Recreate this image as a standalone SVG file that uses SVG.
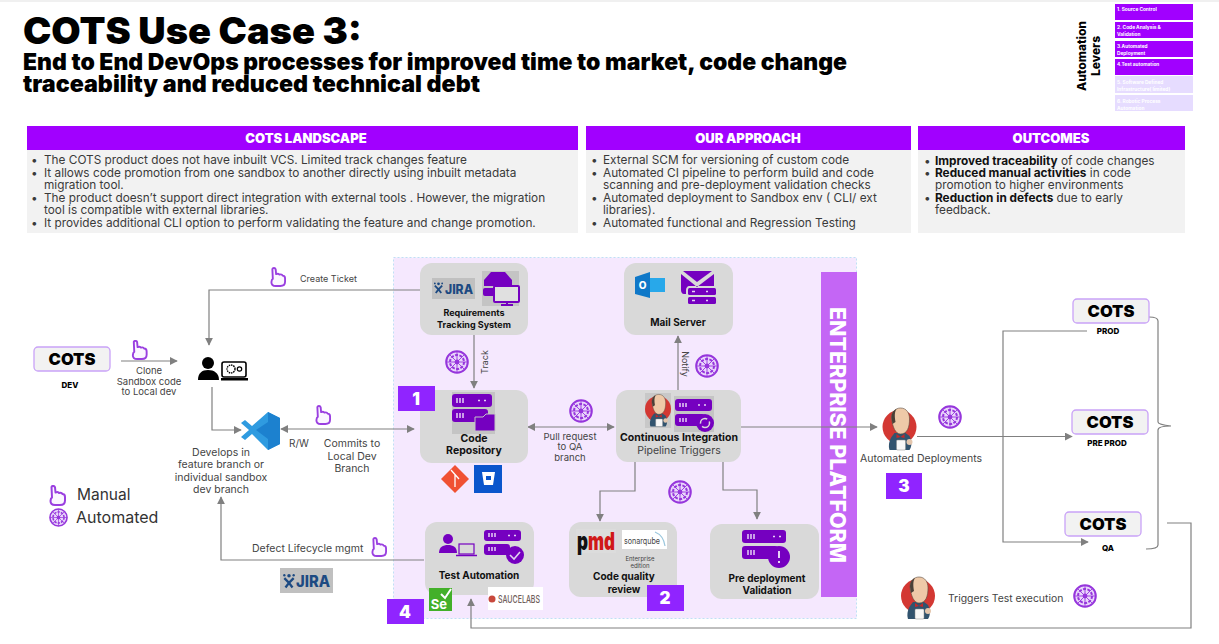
<svg xmlns="http://www.w3.org/2000/svg" width="1219" height="644" viewBox="0 0 1219 644" font-family="Inter, 'Liberation Sans', sans-serif">
<style>
text{font-family:Inter,'Liberation Sans',sans-serif;fill:#333}
.t1{font-size:37px;font-weight:900;fill:#000}
.t2{font-size:23px;font-weight:900;fill:#000}
.hd{font-size:13px;font-weight:900;fill:#fff;text-anchor:middle}
.bd{font-size:11.800px;fill:#3a3a3a}
.b{font-weight:700;fill:#111}
.lv{font-size:4.800px;font-weight:700;fill:#fff}
.lab{font-size:9.500px;fill:#444;text-anchor:middle}
.lab0{font-size:9.500px;fill:#444}
.nd{font-size:10px;font-weight:700;fill:#111;text-anchor:middle}
.card{fill:#d9d9d9}
.cots{fill:#f2f2f2;stroke:#c9a2f7;stroke-width:1.300}
.ct{font-size:16.500px;font-weight:900;fill:#000;text-anchor:middle}
.env{font-size:8px;font-weight:800;fill:#000;text-anchor:middle}
.badge{fill:#9024ff}
.bt{font-size:17px;font-weight:900;fill:#fff;text-anchor:middle}
.c{fill:none;stroke:#808080;stroke-width:1.200}
.p{fill:#7500c0}
.dash{stroke:#e6d0f5;stroke-width:1.500;fill:none}
</style>
<defs>
<marker id="ah" viewBox="0 0 10 10" refX="9" refY="5" markerWidth="8" markerHeight="8" markerUnits="userSpaceOnUse" orient="auto-start-reverse"><path d="M0 0L10 5L0 10z" fill="#808080"/></marker>
<symbol id="hand" viewBox="0 0 17 21"><path d="M2.500 2C3 .5 5.500 .5 6 2.200L6.500 7.500C8 6.800 9.500 7 10 8C11.500 7.500 13 8 13.500 9C15.300 9 16 10 16 12L16 15.500C16 18.500 14 20 11 20L6 20C3 20 1.500 18.500 1.500 16L2 13.500 3 12.500z" fill="#fbf6ff" stroke="#9a3fe0" stroke-width="2" stroke-linejoin="round"/></symbol>
<symbol id="auto" viewBox="0 0 24 24"><circle cx="12" cy="12" r="10.800" fill="#e9d6fb" stroke="#9636dc" stroke-width="2"/><circle cx="12" cy="12" r="7" fill="none" stroke="#9636dc" stroke-width="2" stroke-dasharray="3 1.400"/><circle cx="12" cy="12" r="2.400" fill="#9636dc"/><path d="M12 1.500V22.500M1.500 12H22.500M4.500 4.500L19.500 19.500M19.500 4.500L4.500 19.500" stroke="#9636dc" stroke-width=".9"/></symbol>
<symbol id="jenkins" viewBox="0 0 34 44"><circle cx="17" cy="20" r="17" fill="#d33833"/><path d="M9 30C6 35 6 40 7 43L27 43C29 40 30 35 27 29L23 26 12 26z" fill="#31536e"/><path d="M9 11C9 5 13 1 18 1C24 1 27 6 27 12C27 20 25 27 18 27C13 27 10 20 9 11z" fill="#eec9a8" stroke="#5a4a3e" stroke-width=".6"/><path d="M9 11C9 6 11 3 14 2C12 5 12 9 13 15L10 17z" fill="#4a4038"/><path d="M14 27L18 30 22 27 22 31 18 30 14 31z" fill="#c62828"/><rect x="14" y="33" width="9" height="10" rx="1" fill="#f7f7f7" stroke="#888" stroke-width=".5"/><circle cx="27" cy="35" r="3" fill="#e4c6ad"/></symbol>
<symbol id="jiraman" viewBox="0 0 12 14"><path d="M2 5L6 9 10 5M3 13L6 9 9 13" fill="none" stroke="#1d4a82" stroke-width="2"/><circle cx="6" cy="3" r="1.500" fill="#1d4a82"/><circle cx="2" cy="2.500" r="1" fill="#1d4a82"/><circle cx="10" cy="2.500" r="1" fill="#1d4a82"/></symbol>
</defs>

<rect id="top-strip" x="0" y="0" width="1219" height="2" fill="#f0f0f0"/>
<g id="title">
<text class="t1" x="23" y="44" textLength="339" lengthAdjust="spacingAndGlyphs">COTS Use Case 3:</text>
<text class="t2" x="23" y="70" textLength="824" lengthAdjust="spacingAndGlyphs">End to End DevOps processes for improved time to market, code change</text>
<text class="t2" x="23" y="92" textLength="457" lengthAdjust="spacingAndGlyphs">traceability  and reduced technical debt</text>
</g>

<g id="levers">
<text transform="translate(1086 56) rotate(-90)" font-size="12" font-weight="800" style="fill:#000" text-anchor="middle">Automation</text>
<text transform="translate(1100 56) rotate(-90)" font-size="12" font-weight="800" style="fill:#000" text-anchor="middle">Levers</text>
<rect x="1115" y="4" width="78" height="16" fill="#a100ff"/>
<rect x="1115" y="22" width="78" height="16" fill="#a100ff"/>
<rect x="1115" y="41" width="78" height="16" fill="#a100ff"/>
<rect x="1115" y="59" width="78" height="16" fill="#a100ff"/>
<rect x="1115" y="76" width="78" height="17" fill="#e6dcff"/>
<rect x="1115" y="95" width="78" height="16" fill="#e6dcff"/>
<text class="lv" x="1117" y="11">1. Source Control</text>
<text class="lv" x="1117" y="29">2. Code Analysis &amp;</text><text class="lv" x="1117" y="36">Validation</text>
<text class="lv" x="1117" y="48">3.Automated</text><text class="lv" x="1117" y="55">Deployment</text>
<text class="lv" x="1117" y="66">4.Test automation</text>
<text class="lv" x="1117" y="84">5. Software Defined</text><text class="lv" x="1117" y="91">Infrastructure( limited)</text>
<text class="lv" x="1117" y="103">6.  Robotic Process</text><text class="lv" x="1117" y="110">Automation</text>
</g>

<g id="landscape">
<rect x="27" y="150" width="551" height="83" fill="#f2f2f2"/>
<rect x="27" y="126" width="551" height="24" fill="#a100ff"/>
<text class="hd" x="306" y="143">COTS LANDSCAPE</text>
<text class="bd" x="31" y="164">•</text><text class="bd" x="44" y="164">The COTS product does not have inbuilt VCS. Limited track changes feature</text>
<text class="bd" x="31" y="177">•</text><text class="bd" x="44" y="177">It allows code promotion from one sandbox to another directly using inbuilt metadata</text>
<text class="bd" x="44" y="189">migration tool.</text>
<text class="bd" x="31" y="202">•</text><text class="bd" x="44" y="202">The product doesn’t  support direct integration with external tools . However, the migration</text>
<text class="bd" x="44" y="214">tool is compatible with external libraries.</text>
<text class="bd" x="31" y="227">•</text><text class="bd" x="44" y="227">It provides additional CLI option to perform validating the feature and change promotion.</text>
</g>

<g id="approach">
<rect x="586" y="150" width="325" height="83" fill="#f2f2f2"/>
<rect x="586" y="126" width="325" height="24" fill="#a100ff"/>
<text class="hd" x="748" y="143">OUR APPROACH</text>
<text class="bd" x="591" y="164">•</text><text class="bd" x="603" y="164">External SCM for versioning of custom code</text>
<text class="bd" x="591" y="177">•</text><text class="bd" x="603" y="177">Automated CI pipeline to perform build and code</text>
<text class="bd" x="603" y="189">scanning and pre-deployment validation checks</text>
<text class="bd" x="591" y="202">•</text><text class="bd" x="603" y="202">Automated deployment to Sandbox env ( CLI/ ext</text>
<text class="bd" x="603" y="214">libraries).</text>
<text class="bd" x="591" y="227">•</text><text class="bd" x="603" y="227">Automated functional and Regression Testing</text>
</g>

<g id="outcomes">
<rect x="918" y="150" width="267" height="83" fill="#f2f2f2"/>
<rect x="918" y="126" width="267" height="24" fill="#a100ff"/>
<text class="hd" x="1051" y="143">OUTCOMES</text>
<text class="bd" x="924" y="165">•</text><text class="bd" x="935" y="165"><tspan class="b">Improved traceability</tspan> of code changes</text>
<text class="bd" x="924" y="177">•</text><text class="bd" x="935" y="177"><tspan class="b">Reduced manual activities</tspan> in  code</text>
<text class="bd" x="935" y="189">promotion to higher environments</text>
<text class="bd" x="924" y="202">•</text><text class="bd" x="935" y="202"><tspan class="b">Reduction in defects</tspan> due to early</text>
<text class="bd" x="935" y="214">feedback.</text>
</g>

<g id="platform">
<rect x="393.500" y="257.500" width="463" height="361" fill="#f5e8fe" stroke="#bfe0f5" stroke-width="1" stroke-dasharray="2 2"/>
<rect x="821" y="272" width="36" height="325" fill="#c466f5"/>
<text transform="translate(830 435) rotate(90)" font-size="21" font-weight="800" style="fill:#fff" text-anchor="middle" textLength="256" lengthAdjust="spacingAndGlyphs">ENTERPRISE PLATFORM</text>
</g>

<g id="connectors">
<path class="c" d="M420 290H209V345" marker-end="url(#ah)"/>
<path class="c" d="M121 361H177" marker-end="url(#ah)"/>
<path class="c" d="M212 387V430H241" marker-end="url(#ah)"/>
<path class="c" d="M281 429H414" marker-start="url(#ah)" marker-end="url(#ah)"/>
<path class="c" d="M424 560H221V497" marker-end="url(#ah)"/>
<path class="c" d="M474 335V388" marker-end="url(#ah)"/>
<path class="c" d="M678 390V336" marker-end="url(#ah)"/>
<path class="c" d="M528 427H614" marker-start="url(#ah)" marker-end="url(#ah)"/>
<path class="c" d="M741 427H877" marker-end="url(#ah)"/>
<path class="c" d="M635 461V491H600V521" marker-end="url(#ah)"/>
<path class="c" d="M723 461V490H757V519" marker-end="url(#ah)"/>
<path class="c" d="M917 436.500H1072" marker-end="url(#ah)"/>
<path class="c" d="M1087 331H1003V542H1088" marker-end="url(#ah)"/>
<path class="c" d="M1149 317C1155 317 1158 318 1158 321V422C1158 424 1162 425 1171 426C1162 426 1158 427 1158 430V545C1158 548 1153 549 1146 549"/>
<path class="c" d="M1167 523H1191V628H471V599" marker-end="url(#ah)"/>
</g>

<g id="legend">
<use href="#hand" x="49" y="485" width="17" height="21"/>
<text x="77" y="500" font-size="15.500" style="fill:#333">Manual</text>
<use href="#auto" x="49" y="508" width="19" height="19"/>
<text x="76" y="523" font-size="16" style="fill:#333">Automated</text>
</g>

<g id="cots-dev">
<rect class="cots" x="34" y="347" width="76" height="24" rx="4"/>
<text class="ct" x="72" y="365">COTS</text>
<text class="env" x="70" y="388">DEV</text>
</g>
<g id="clone-label">
<use href="#hand" x="131" y="340" width="17" height="20"/>
<text class="lab" x="149" y="374">Clone</text><text class="lab" x="149" y="385">Sandbox code</text><text class="lab" x="149" y="395">to Local dev</text>
</g>
<g id="developer">
<circle cx="208" cy="363" r="6" fill="#000"/>
<path d="M198 380C198 373 202 370 208 370C214 370 219 373 219 380z" fill="#000"/>
<rect x="222" y="362" width="24" height="15" rx="2" fill="#fff" stroke="#000" stroke-width="1.600"/>
<circle cx="231" cy="369" r="4" fill="none" stroke="#000" stroke-width="1.400" stroke-dasharray="1.500 .8"/>
<circle cx="239.500" cy="369" r="2.200" fill="none" stroke="#000" stroke-width="1.200"/>
<rect x="221" y="378" width="27" height="2.500" fill="#000"/>
</g>
<g id="create-ticket">
<use href="#hand" x="270" y="267" width="16" height="20"/>
<text class="lab0" x="300" y="282" style="font-size:9px">Create Ticket</text>
</g>
<g id="vscode">
<path d="M268 412L280 418V444L268 450 252 434 245 440 241 437 249 430 241 423 245 420 252 426z" fill="#2f9be0"/>
<path d="M268 412L280 418V444L268 450V422L256 430 268 439z" fill="#1c81cf"/>
<text class="lab" x="299" y="447" style="font-size:10px">R/W</text>
<text class="lab" x="221" y="456" style="font-size:10.500px">Develops  in</text>
<text class="lab" x="221" y="468" style="font-size:10.500px">feature branch or</text>
<text class="lab" x="221" y="481" style="font-size:10.500px">individual sandbox</text>
<text class="lab" x="221" y="493" style="font-size:10.500px">dev branch</text>
</g>
<g id="commits">
<use href="#hand" x="315" y="405" width="16" height="20"/>
<text class="lab" x="352" y="447" style="font-size:10.500px">Commits to</text>
<text class="lab" x="352" y="460" style="font-size:10.500px">Local Dev</text>
<text class="lab" x="352" y="472" style="font-size:10.500px">Branch</text>
</g>
<g id="defect">
<text class="lab0" x="252" y="552" style="font-size:10.500px">Defect Lifecycle mgmt</text>
<use href="#hand" x="371" y="537" width="16" height="20"/>
<rect x="280" y="568" width="53" height="25" fill="#c0c0c0"/>
<use href="#jiraman" x="282" y="572" width="14" height="17"/>
<text x="296" y="587" font-size="16" font-weight="800" style="fill:#1d4a82" textLength="34" lengthAdjust="spacingAndGlyphs">JIRA</text>
</g>

<g id="req-tracking">
<rect class="card" x="420" y="263" width="108" height="72" rx="12"/>
<rect x="432" y="278" width="43" height="21" fill="#c0c0c0"/>
<use href="#jiraman" x="433" y="280" width="11" height="15"/>
<text x="445" y="294" font-size="13" font-weight="800" style="fill:#1d4a82" textLength="28" lengthAdjust="spacingAndGlyphs">JIRA</text>
<rect x="482" y="271" width="37" height="35" fill="#c4c4c4"/>
<path d="M484 286V280L491 272H505L512 280V286z" fill="#7500c0"/>
<rect x="483" y="288" width="16" height="8" rx="2" fill="#7500c0"/>
<rect x="494" y="286" width="25" height="16" rx="1" fill="#e0e0e0" stroke="#7500c0" stroke-width="2"/>
<path d="M501 305H513M507 302V305" stroke="#7500c0" stroke-width="2"/>
<text class="nd" x="474" y="316" style="font-size:9px">Requirements</text>
<text class="nd" x="474" y="328" style="font-size:9px">Tracking System</text>
</g>
<use href="#auto" x="445" y="350" width="24" height="24"/>
<text transform="translate(488 362) rotate(-90)" class="lab" style="font-size:9px">Track</text>

<g id="mail-server">
<rect class="card" x="624" y="263" width="109" height="72" rx="12"/>
<path d="M635 277L650 272V298L635 294z" fill="#0f78c8"/>
<rect x="650" y="278" width="15" height="14" fill="#28a8ea"/>
<text x="642.500" y="289" font-size="10" font-weight="800" style="fill:#fff" text-anchor="middle">O</text>
<path d="M683 271H712L697 282z" fill="#7500c0"/>
<path d="M681 274L697 287 714 274V286H690C687 286 686 288 686 291V294H684C682 294 681 292 681 290z" fill="#7500c0"/>
<rect x="688" y="288" width="28" height="7" rx="1.500" fill="#7500c0"/>
<rect x="688" y="297" width="28" height="7" rx="1.500" fill="#7500c0"/>
<path class="dash" d="M692 291.500h3M706 291.500h2M692 300.500h3M706 300.500h2"/>
<text class="nd" x="678" y="326">Mail Server</text>
</g>
<use href="#auto" x="695" y="354" width="24" height="24"/>
<text transform="translate(682 364) rotate(90)" class="lab" style="font-size:9px">Notify</text>

<g id="code-repo">
<rect class="card" x="420" y="390" width="108" height="73" rx="12"/>
<rect x="452" y="392" width="43" height="42" fill="#c4c4c4"/>
<rect x="452" y="394" width="40" height="13" rx="3" class="p"/>
<rect x="452" y="409" width="36" height="13" rx="3" class="p"/>
<path d="M475 417H483L486 414H495V431H475z" fill="#7500c0" stroke="#c4c4c4"/>
<path class="dash" d="M457 398v5M460 398v5M463 398v5M457 413v5M460 413v5M463 413v5M478 400.500h2M484 400.500h2"/>
<text class="nd" x="474" y="442" style="font-size:10.500px">Code</text>
<text class="nd" x="474" y="454" style="font-size:10.500px">Repository</text>
</g>
<path id="git-logo" d="M455 465L469 479 455 493 441 479z" fill="#f05133"/>
<path d="M451 470L459 479M455 474V487" stroke="#fff" stroke-width="1.300"/>
<rect id="bitbucket-logo" x="474" y="465" width="28" height="28" fill="#0a56cc"/>
<path d="M482 472H495L493 485H484z" fill="#fff"/>
<rect x="486" y="476" width="5" height="4" fill="#0a56cc"/>

<use href="#auto" x="569" y="399" width="24" height="24"/>
<text class="lab" x="570" y="440">Pull request</text><text class="lab" x="570" y="450">to QA</text><text class="lab" x="570" y="461">branch</text>

<g id="ci">
<rect class="card" x="616" y="390" width="125" height="72" rx="12"/>
<rect x="645" y="393" width="26" height="35" fill="#c8c8c8"/>
<use href="#jenkins" x="645" y="393" width="26" height="35"/>
<rect x="674" y="396" width="40" height="36" fill="#c4c4c4"/>
<rect x="675" y="399" width="37" height="12" rx="3" class="p"/>
<rect x="675" y="414" width="30" height="12" rx="3" class="p"/>
<circle cx="705" cy="423" r="9" fill="#7500c0"/>
<circle cx="705" cy="423" r="4.500" fill="none" stroke="#d9d9d9" stroke-width="1.500" stroke-dasharray="10 3"/>
<path class="dash" d="M680 403v4M683 403v4M686 403v4M680 418v4M683 418v4M686 418v4M698 405h2M704 405h2"/>
<text class="nd" x="679" y="441" style="font-size:10.500px">Continuous Integration</text>
<text class="lab" x="679" y="454" style="font-size:10.500px">Pipeline Triggers</text>
</g>
<use href="#auto" x="668" y="480" width="24" height="24"/>

<g id="test-automation">
<rect class="card" x="425" y="522" width="109" height="73" rx="12"/>
<circle cx="448" cy="539" r="5" class="p"/>
<path d="M439 553C439 547 443 545 448 545C453 545 457 547 457 553z" class="p"/>
<rect x="459" y="544" width="15" height="10" fill="none" stroke="#7500c0" stroke-width="1.200"/>
<path d="M456 555.500H477" stroke="#7500c0" stroke-width="1.500"/>
<rect x="484" y="530" width="37" height="11" rx="3" class="p"/>
<rect x="484" y="544" width="26" height="11" rx="3" class="p"/>
<circle cx="515" cy="555" r="9" class="p"/>
<path d="M510 555L514 559 520 552" fill="none" stroke="#e0d0f0" stroke-width="1.600"/>
<path class="dash" d="M489 533v4M492 533v4M495 533v4M489 547v4M492 547v4M495 547v4M508 535.500h2M514 535.500h2"/>
<text class="nd" x="479" y="579">Test Automation</text>
</g>
<rect id="selenium-logo" x="429" y="588" width="23" height="23" fill="#43b02a"/>
<text x="439" y="609" font-size="13" font-weight="700" style="fill:#fff" text-anchor="middle">Se</text>
<path d="M441 594L445 598 451 589" fill="none" stroke="#fff" stroke-width="2"/>
<g id="saucelabs-logo"><rect x="488" y="587" width="55" height="23" fill="#fff"/>
<circle cx="492" cy="599" r="3.500" fill="#c8483c"/>
<text x="498" y="603" font-size="11" font-weight="500" style="fill:#70605c" textLength="42" lengthAdjust="spacingAndGlyphs">SAUCELABS</text></g>

<g id="code-quality">
<rect class="card" x="569" y="522" width="108" height="75" rx="12"/>
<rect x="576" y="529" width="40" height="24" fill="#dcdcdc"/>
<text x="596" y="550" font-size="25" font-weight="900" style="fill:#d01818" text-anchor="middle" textLength="38" lengthAdjust="spacingAndGlyphs"><tspan style="fill:#111">p</tspan>md</text>
<rect x="622" y="530" width="45" height="19" fill="#fff"/>
<text x="642" y="544" font-size="9" style="fill:#444" text-anchor="middle" textLength="36" lengthAdjust="spacingAndGlyphs">sonarqube</text>
<path d="M655 532C660 534 664 539 665 546" fill="none" stroke="#9ac6dc" stroke-width="1.200"/>
<text class="lab" x="640" y="561" style="font-size:6px">Enterprise</text>
<text class="lab" x="640" y="568" style="font-size:6px">edition</text>
<text class="nd" x="624" y="580">Code quality</text>
<text class="nd" x="624" y="593">review</text>
</g>

<g id="pre-deployment">
<rect class="card" x="710" y="524" width="109" height="75" rx="12"/>
<rect x="742" y="530" width="44" height="13" rx="3" class="p"/>
<rect x="742" y="546" width="36" height="13" rx="3" class="p"/>
<circle cx="779" cy="557" r="11" class="p"/>
<path d="M779 551V558M779 561V563" stroke="#e6d0f5" stroke-width="2"/>
<path class="dash" d="M748 534v5M751 534v5M754 534v5M748 550v5M751 550v5M754 550v5M773 536.500h2M779 536.500h2"/>
<text class="nd" x="767" y="582">Pre deployment</text>
<text class="nd" x="767" y="594">Validation</text>
</g>

<g id="badges">
<rect class="badge" x="398" y="386" width="37" height="25"/><text class="bt" x="416" y="405">1</text>
<rect class="badge" x="647" y="585" width="37" height="26"/><text class="bt" x="665" y="604">2</text>
<rect class="badge" x="886" y="473" width="36" height="26"/><text class="bt" x="904" y="492">3</text>
<rect class="badge" x="387" y="599" width="37" height="25"/><text class="bt" x="405" y="618">4</text>
</g>

<g id="deploy">
<use href="#jenkins" x="882" y="407" width="35" height="44"/>
<text class="lab" x="921" y="462" style="font-size:10.500px">Automated Deployments</text>
<use href="#auto" x="938" y="405" width="24" height="24"/>
</g>
<g id="cots-prod">
<rect class="cots" x="1073" y="299" width="76" height="24" rx="4"/>
<text class="ct" x="1111" y="317">COTS</text>
<text class="env" x="1108" y="334">PROD</text>
</g>
<g id="cots-preprod">
<rect class="cots" x="1072" y="410" width="76" height="24" rx="4"/>
<text class="ct" x="1110" y="428">COTS</text>
<text class="env" x="1107" y="446">PRE PROD</text>
</g>
<g id="cots-qa">
<rect class="cots" x="1065" y="512" width="76" height="24" rx="4"/>
<text class="ct" x="1103" y="530">COTS</text>
<text class="env" x="1108" y="551">QA</text>
</g>
<g id="trigger">
<use href="#jenkins" x="901" y="576" width="34" height="44"/>
<text class="lab0" x="948" y="602" style="font-size:10.400px">Triggers Test execution</text>
<use href="#auto" x="1073" y="584" width="24" height="24"/>
</g>
</svg>
